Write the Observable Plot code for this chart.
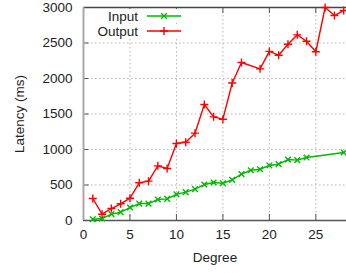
<!DOCTYPE html>
<html>
<head>
<meta charset="utf-8">
<script src="https://cdn.jsdelivr.net/npm/d3@7"></script>
<script src="https://cdn.jsdelivr.net/npm/@observablehq/plot@0.6"></script>
<style>
  html, body { margin: 0; padding: 0; background: #fff; }
  #chart { width: 346px; height: 273px; overflow: hidden; }
</style>
</head>
<body>
<div id="chart"></div>
<script>
// ---- data ----
const inputDegree = [1,2,3,4,5,6,7,8,9,10,11,12,13,14,15,16,17,18,19,20,21,22,23,24,28];
const inputLatency = [18,28,89,117,183,239,239,296,305,368,399,442,507,535,525,573,652,708,722,775,793,859,850,887,958];
const outputDegree = [1,2,3,4,5,6,7,8,9,10,11,12,13,14,15,16,17,19,20,21,22,23,24,25,26,27,28];
const outputLatency = [310,89,169,235,314,531,554,770,732,1085,1103,1230,1634,1460,1427,1937,2225,2136,2382,2328,2483,2615,2525,2377,3000,2887,2958];
const xTicks = [0,5,10,15,20,25];
const yTicks = [0,500,1000,1500,2000,2500,3000];
const seriesNames = ["Input","Output"];
const seriesColors = ["#00b800","#ff0000"];
const seriesSymbols = ["times","plus"];

const inputData = inputDegree.map((d,i) => ({x: d, y: inputLatency[i]}));
const outputData = outputDegree.map((d,i) => ({x: d, y: outputLatency[i]}));

const font = "'Liberation Sans', Arial, sans-serif";
const gridTicksX = xTicks.filter(t => t > 0);
const gridTicksY = yTicks.filter(t => t > 0 && t < 3000);

const plot = Plot.plot({
  width: 346,
  height: 273,
  marginLeft: 83,
  marginRight: 0,
  marginTop: 7,
  marginBottom: 53,
  style: {fontFamily: font, fontSize: "13.5px", color: "#222", background: "#fff", overflow: "visible"},
  x: {domain: [0, 28.3]},
  y: {domain: [0, 3000]},
  marks: [
    Plot.gridX(gridTicksX, {stroke: "#b4b4b4", strokeOpacity: 1, strokeDasharray: "1.5,2.5"}),
    Plot.gridY(gridTicksY, {stroke: "#b4b4b4", strokeOpacity: 1, strokeDasharray: "1.5,2.5"}),
    // inward ticks
    Plot.ruleX(gridTicksX, {y1: 0, y2: 85, stroke: "#555"}),
    Plot.ruleX(gridTicksX, {y1: 2915, y2: 3000, stroke: "#555"}),
    Plot.ruleY(gridTicksY, {x1: 0, x2: 0.6, stroke: "#555"}),
    // frame
    Plot.ruleY([0], {stroke: "#555", strokeWidth: 1.3}),
    Plot.ruleY([3000], {stroke: "#444", strokeWidth: 1.3}),
    Plot.ruleX([0], {stroke: "#a8a8a8", strokeWidth: 2}),
    Plot.axisX(xTicks, {tickSize: 0, tickPadding: 9, tickFormat: d3.format("d"), label: "Degree", labelAnchor: "center", labelArrow: "none", labelOffset: 41, fontSize: 13.5}),
    Plot.axisY(yTicks, {tickSize: 0, tickPadding: 11, tickFormat: d3.format("d"), label: "Latency (ms)", labelAnchor: "center", labelArrow: "none", labelOffset: 69, fontSize: 13.5}),
    // series
    Plot.line(inputData, {x: "x", y: "y", stroke: seriesColors[0], strokeWidth: 1.4}),
    Plot.dot(inputData, {x: "x", y: "y", symbol: seriesSymbols[0], r: 2.7, stroke: seriesColors[0], strokeWidth: 1.4}),
    Plot.line(outputData, {x: "x", y: "y", stroke: seriesColors[1], strokeWidth: 1.4}),
    Plot.dot(outputData, {x: "x", y: "y", symbol: seriesSymbols[1], r: 2.7, stroke: seriesColors[1], strokeWidth: 1.4})
  ]
});

// legend inside the frame, top-left
const svg = d3.select(plot);
const lg = svg.append("g").attr("font-family", font).attr("font-size", 13.5);
seriesNames.forEach((name, i) => {
  const cy = 16 + i * 15;
  lg.append("rect").attr("x", 88).attr("y", cy - 7).attr("width", 98).attr("height", 14).attr("fill", "#fff");
  lg.append("text").attr("x", 138).attr("y", cy).attr("dy", "0.35em").attr("text-anchor", "end").attr("fill", "#222").text(name);
  lg.append("line").attr("x1", 147).attr("x2", 181).attr("y1", cy).attr("y2", cy)
    .attr("stroke", seriesColors[i]).attr("stroke-width", 1.4);
  const sym = seriesSymbols[i] === "times" ? d3.symbolTimes : d3.symbolPlus;
  lg.append("path").attr("transform", `translate(164,${cy})`)
    .attr("d", d3.symbol(sym, Math.PI * 2.7 * 2.7)())
    .attr("fill", "none").attr("stroke", seriesColors[i]).attr("stroke-width", 1.4);
});

document.getElementById("chart").appendChild(plot);
</script>
</body>
</html>
